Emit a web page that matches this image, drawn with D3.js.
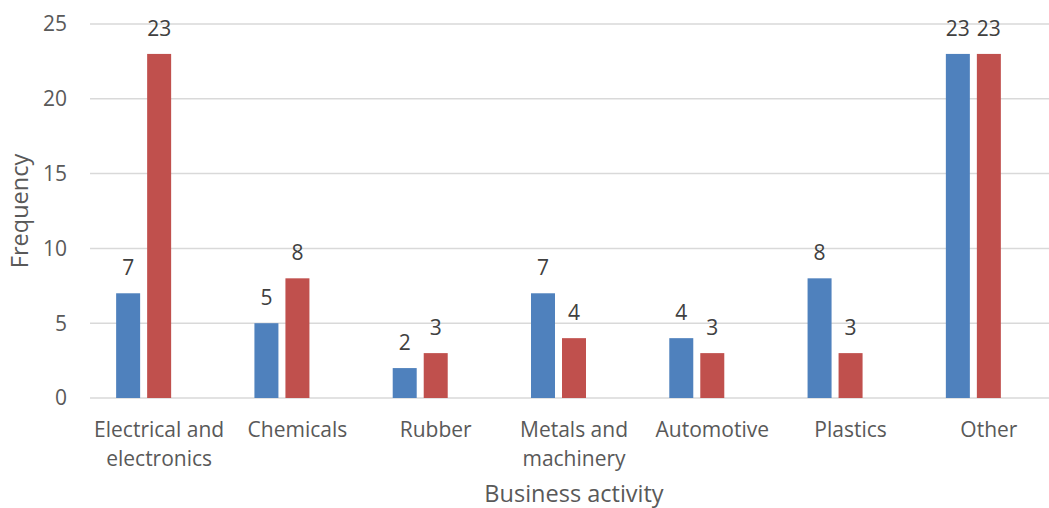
<!DOCTYPE html>
<html>
<head>
<meta charset="utf-8">
<script src="https://cdn.jsdelivr.net/npm/d3@7"></script>
<style>
  body { margin: 0; background: #fff; }
  text { font-family: "Open Sans", sans-serif; }
</style>
</head>
<body>
<div id="chart"></div>
<script>
// data
var categories = ["Electrical and electronics", "Chemicals", "Rubber", "Metals and machinery", "Automotive", "Plastics", "Other"];
var labelLines = [["Electrical and", "electronics"], ["Chemicals"], ["Rubber"], ["Metals and", "machinery"], ["Automotive"], ["Plastics"], ["Other"]];
var series1 = [7, 5, 2, 7, 4, 8, 23];
var series2 = [23, 8, 3, 4, 3, 3, 23];
var seriesSlots = ["s1", "s2", "s3"]; // third slot empty in the original
var yTicks = [0, 5, 10, 15, 20, 25];

var width = 1049, height = 508;
var margin = {top: 24, left: 90, bottom: 110};
var plotRight = 1058; // plot runs a bit past the right edge

var svg = d3.select("#chart").append("svg")
    .attr("width", width)
    .attr("height", height);

var x = d3.scaleBand()
    .domain(categories)
    .range([margin.left, plotRight]);

var xs = d3.scaleBand()
    .domain(seriesSlots)
    .range([0, x.bandwidth()])
    .paddingInner(0.226)
    .paddingOuter(0.843);

var y = d3.scaleLinear()
    .domain([0, 25])
    .range([398, margin.top]);

// grid
svg.append("g").selectAll("line")
    .data(yTicks)
    .enter()
    .append("line")
    .attr("x1", margin.left).attr("x2", plotRight)
    .attr("y1", d => y(d)).attr("y2", d => y(d))
    .style("stroke", "#d9d9d9")
    .style("stroke-width", 1.5);

// y tick labels
svg.append("g").selectAll("text")
    .data(yTicks)
    .enter()
    .append("text")
    .attr("x", 67)
    .attr("y", d => y(d))
    .attr("dy", "0.35em")
    .attr("text-anchor", "end")
    .attr("font-size", 21)
    .attr("fill", "#595959")
    .text(d => d);

var colors = {s1: "#4f81bd", s2: "#c0504d"};
var rows = categories.map((c, i) => ({cat: c, vals: [{k: "s1", v: series1[i]}, {k: "s2", v: series2[i]}]}));

var groups = svg.append("g").selectAll("g")
    .data(rows)
    .enter()
    .append("g")
    .attr("transform", d => "translate(" + x(d.cat) + ",0)");

groups.selectAll("rect")
    .data(d => d.vals)
    .enter()
    .append("rect")
    .attr("x", d => xs(d.k))
    .attr("width", xs.bandwidth())
    .attr("y", d => y(d.v))
    .attr("height", d => y(0) - y(d.v))
    .attr("fill", d => colors[d.k]);

groups.selectAll("text")
    .data(d => d.vals)
    .enter()
    .append("text")
    .attr("x", d => xs(d.k) + xs.bandwidth() / 2)
    .attr("y", d => y(d.v) - 18)
    .attr("text-anchor", "middle")
    .attr("font-size", 21)
    .attr("fill", "#404040")
    .text(d => d.v);

// category labels
var catLabels = svg.append("g").selectAll("text")
    .data(categories)
    .enter()
    .append("text")
    .attr("x", d => x(d) + x.bandwidth() / 2)
    .attr("y", 437)
    .attr("text-anchor", "middle")
    .attr("font-size", 21)
    .attr("fill", "#595959");

catLabels.selectAll("tspan")
    .data((d, i) => labelLines[i])
    .enter()
    .append("tspan")
    .attr("x", function() { return d3.select(this.parentNode).attr("x"); })
    .attr("dy", (d, i) => i === 0 ? 0 : 28.5)
    .text(d => d);

// axis titles
svg.append("text")
    .attr("x", (margin.left + plotRight) / 2)
    .attr("y", 502)
    .attr("text-anchor", "middle")
    .attr("font-size", 23.5)
    .attr("fill", "#595959")
    .text("Business activity");

svg.append("text")
    .attr("transform", "translate(28," + (y(12.5)) + ") rotate(-90)")
    .attr("text-anchor", "middle")
    .attr("font-size", 23.5)
    .attr("fill", "#595959")
    .text("Frequency");
</script>
</body>
</html>
